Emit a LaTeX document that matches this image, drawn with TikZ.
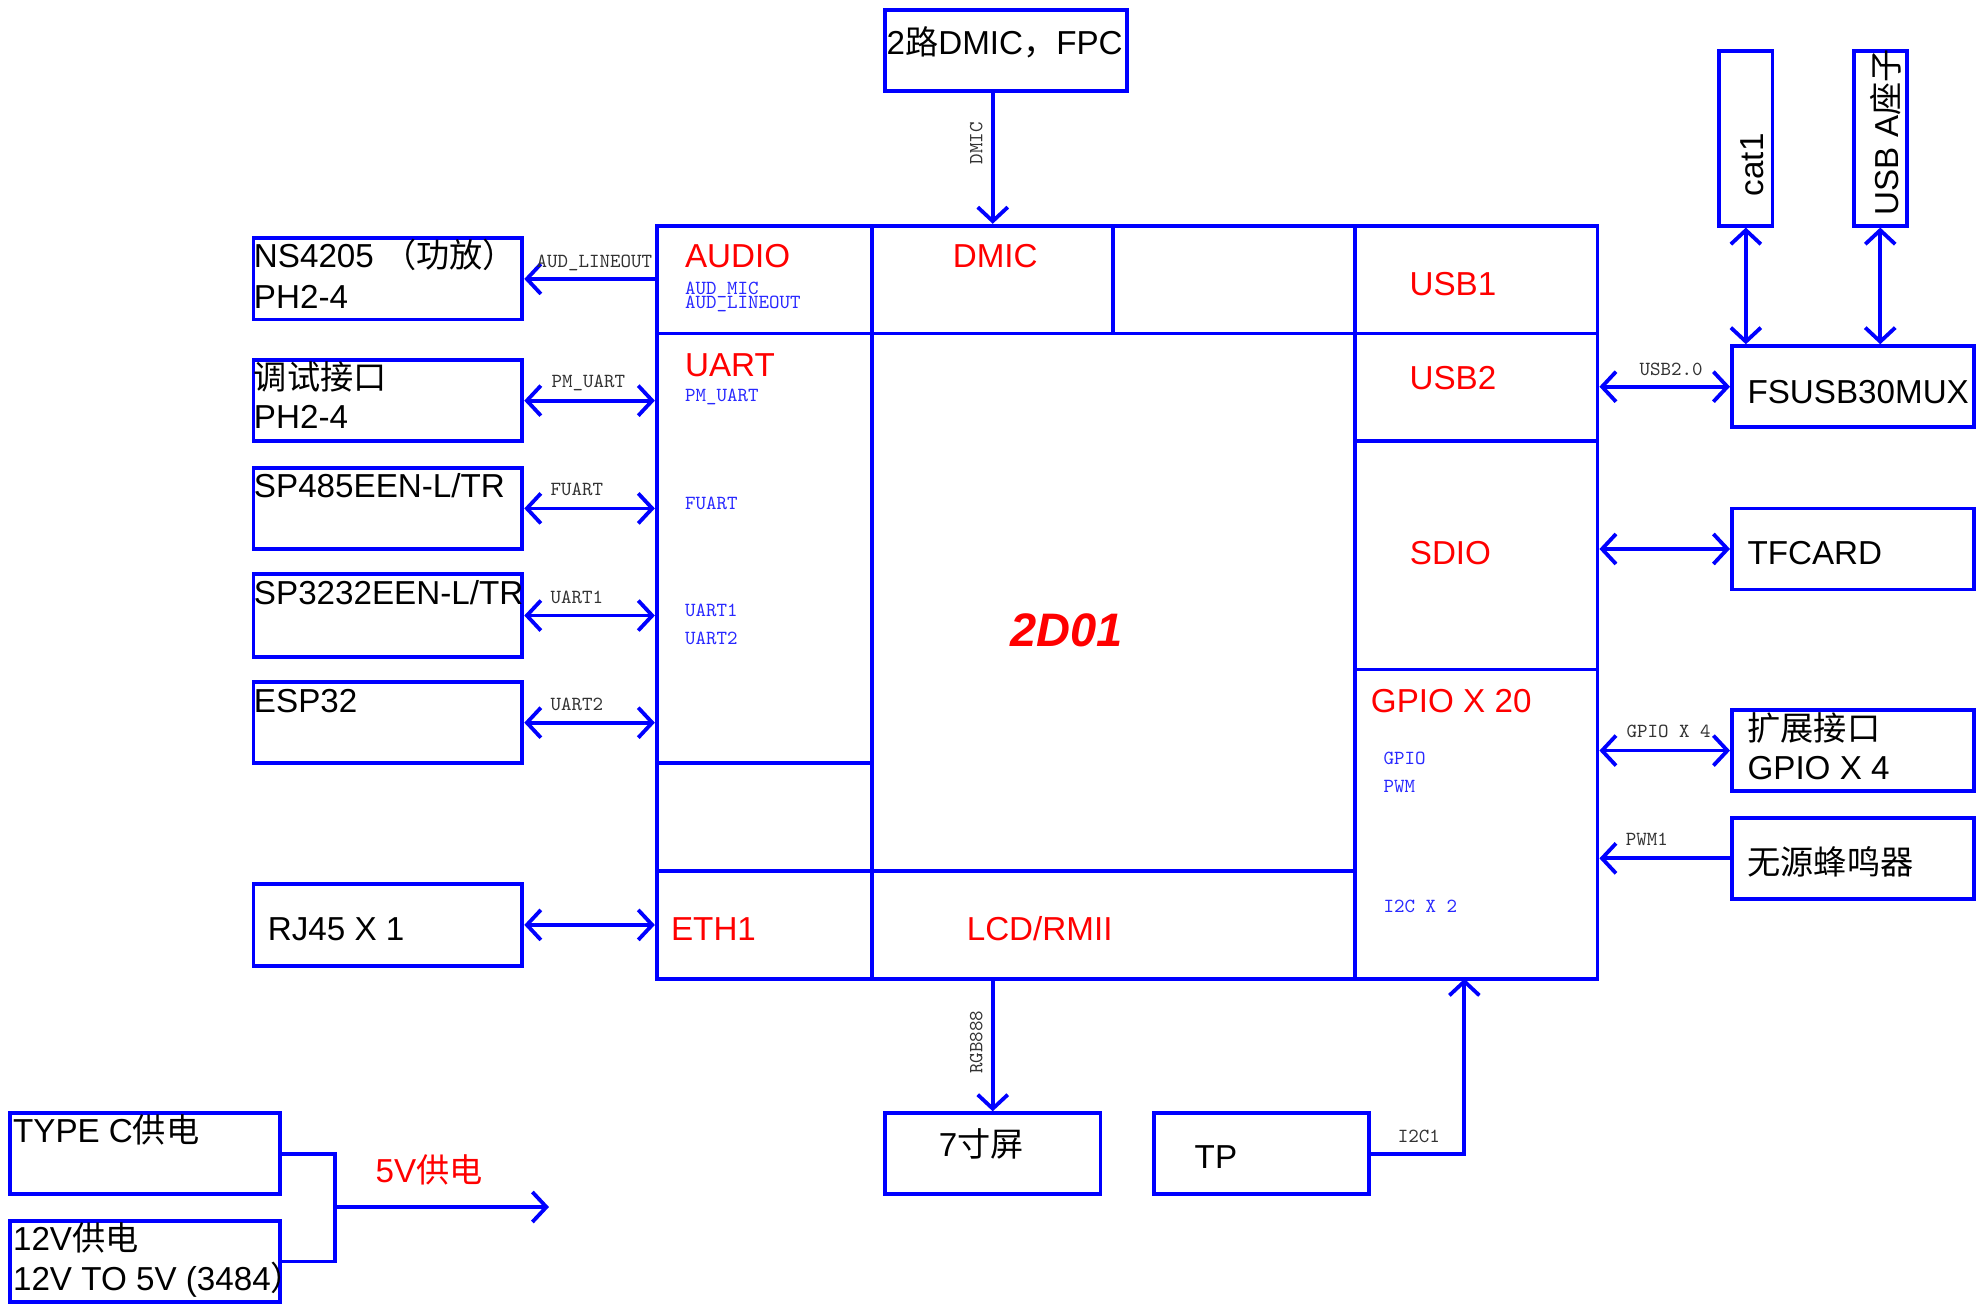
\documentclass[tikz,border=0pt]{standalone}
\usepackage{fontspec}
\setmainfont{Liberation Sans}
\newfontfamily\cjk{Noto Sans CJK SC}
\usetikzlibrary{arrows.meta,fit,calc}
\newcommand\zh[1]{{\cjk #1}}
\definecolor{bl}{RGB}{0,0,255}
\definecolor{sbl}{RGB}{40,40,255}
\definecolor{rd}{RGB}{255,0,0}
\definecolor{lbl}{RGB}{50,50,50}
\tikzset{
 box/.style={draw=bl, line width=1.9pt, inner sep=0pt, rectangle},
 wire/.style={draw=bl, line width=1.9pt},
 big/.style={inner sep=0pt, font=\fontsize{16.6}{20}\selectfont},
 redt/.style={big, text=rd},
 sig/.style={inner sep=0pt, font=\ttfamily\fontsize{10}{11}\selectfont, text=lbl},
 sigin/.style={sig, text=sbl},
 >={Straight Barb[length=7pt,width=15pt]}
}
\begin{document}
\begin{tikzpicture}[x=0.634pt,y=-0.634pt]
\useasboundingbox (0,0) rectangle (1568,1029);
% main chip
\node[box, fit={(518,178) (1260,772)}] (soc) {};
\draw[wire] (688,178) -- (688,772);
\draw[wire] (878,178) -- (878,263);
\draw[wire] (1069,178) -- (1069,772);
\draw[wire] (518,263) -- (1260,263);
\draw[wire] (518,602) -- (688,602);
\draw[wire] (518,687) -- (1069,687);
\draw[wire] (1069,348) -- (1260,348);
\draw[wire] (1069,528) -- (1260,528);
% boxes
\node[box, fit={(200,188) (412,252)}] (ns) {};
\node[box, fit={(200,284) (412,348)}] (dbg) {};
\node[box, fit={(200,369) (412,433)}] (rsa) {};
\node[box, fit={(200,453) (412,518)}] (rsb) {};
\node[box, fit={(200,538) (412,602)}] (esp) {};
\node[box, fit={(200,697) (412,762)}] (rj) {};
\node[box, fit={(698,8) (889,72)}] (dmicb) {};
\node[box, fit={(1356,40) (1398,178)}] (cat) {};
\node[box, fit={(1462,40) (1504,178)}] (usba) {};
\node[box, fit={(1366,273) (1557,337)}] (mux) {};
\node[box, fit={(1366,401) (1557,465)}] (tf) {};
\node[box, fit={(1366,560) (1557,624)}] (ext) {};
\node[box, fit={(1366,645) (1557,709)}] (buz) {};
\node[box, fit={(698,878) (868,942)}] (lcd) {};
\node[box, fit={(910,878) (1080,942)}] (tp) {};
\node[box, fit={(8,878) (221,942)}] (typec) {};
\node[box, fit={(8,963) (221,1027)}] (vtw) {};
% connectors
\draw[wire,<-] (ns.east) -- (ns.east -| soc.west);
\draw[wire,<->] (dbg.east) -- (dbg.east -| soc.west);
\draw[wire,<->] (rsa.east) -- (rsa.east -| soc.west);
\draw[wire,<->] (rsb.east) -- (rsb.east -| soc.west);
\draw[wire,<->] (esp.east) -- (esp.east -| soc.west);
\draw[wire,<->] (rj.east) -- (rj.east -| soc.west);
\draw[wire,->] (lcd.north |- dmicb.south) -- (lcd.north |- soc.north);
\draw[wire,->] (lcd.north |- soc.south) -- (lcd.north);
\draw[wire,<->] (cat.south) -- (cat.south |- mux.north);
\draw[wire,<->] (usba.south) -- (usba.south |- mux.north);
\draw[wire,<->] (mux.west -| soc.east) -- (mux.west);
\draw[wire,<->] (tf.west -| soc.east) -- (tf.west);
\draw[wire,<->] (ext.west -| soc.east) -- (ext.west);
\draw[wire,->] (buz.west) -- (buz.west -| soc.east);
\coordinate (ic) at (1155,772);
\draw[wire,->] (tp.east) -| (ic);
\coordinate (pj) at (264,952);
\coordinate (pout) at (433,952);
\draw[wire] (typec.east) -| (pj);
\draw[wire] (vtw.east) -| (pj);
\draw[wire,->] (pj) -- (pout);
% red labels
\node[redt,anchor=base west] (tAudio) at (540,211) {AUDIO};
\node[redt,anchor=base] (tDmic) at (785,211) {DMIC};
\node[redt,anchor=base] (tUsbA) at (1146,233) {USB1};
\node[redt,anchor=base west] (tUart) at (540,297) {UART};
\node[redt,anchor=base] (tUsbB) at (1146,307) {USB2};
\node[redt,anchor=base] (tSdio) at (1144,445) {SDIO};
\node[redt,anchor=base west] (tGpio) at (1081,562) {GPIO X 20};
\node[redt,anchor=base west] (tEth) at (529,742) {ETH1};
\node[redt,anchor=base] (tLcd) at (820,742) {LCD/RMII};
\node[redt,anchor=base west] (tFive) at (296,933) {5V\zh{供电}};
\node[inner sep=0pt, text=rd, font=\bfseries\itshape\fontsize{23.5}{28}\selectfont] (tChip) at (841,497) {2D01};
% inner blue signal labels
\node[sigin,anchor=base west] (sA) at (540,232) {AUD\_MIC};
\node[sigin,anchor=base west] (sB) at (540,243) {AUD\_LINEOUT};
\node[sigin,anchor=base west] (sC) at (540,317) {PM\_UART};
\node[sigin,anchor=base west] (sD) at (540,402) {FUART};
\node[sigin,anchor=base west] (sE) at (540,486) {UART1};
\node[sigin,anchor=base west] (sF) at (540,508) {UART2};
\node[sigin,anchor=base west] (sG) at (1091,603) {GPIO};
\node[sigin,anchor=base west] (sH) at (1091,625) {PWM};
\node[sigin,anchor=base west] (sI) at (1091,720) {I2C X 2};
% outer signal labels
\node[sig,anchor=base west] (lA) at (423,211) {AUD\_LINEOUT};
\node[sig,anchor=base] (lB) at (464,306) {PM\_UART};
\node[sig,anchor=base] (lC) at (455,391) {FUART};
\node[sig,anchor=base] (lD) at (455,476) {UART1};
\node[sig,anchor=base] (lE) at (455,560) {UART2};
\node[sig,anchor=base] (lF) at (1318,296) {USB2.0};
\node[sig,anchor=base] (lG) at (1316,582) {GPIO X 4};
\node[sig,anchor=base] (lH) at (1299,667) {PWM1};
\node[sig,anchor=base] (lI) at (1119,901) {I2C1};
\node[sig,rotate=90] (lJ) at (770,113) {DMIC};
\node[sig,rotate=90] (lK) at (770,822) {RGB888};
% box texts
\node[big,anchor=base west] (xA) at (200,211) {NS4205 \zh{（功放）}};
\node[big,anchor=base west] (xB) at (200,243) {PH2-4};
\node[big,anchor=base west] (xC) at (200,307) {\zh{调试接口}};
\node[big,anchor=base west] (xD) at (200,338) {PH2-4};
\node[big,anchor=base west] (xE) at (200,392) {SP485EEN-L/TR};
\node[big,anchor=base west] (xF) at (200,477) {SP3232EEN-L/TR};
\node[big,anchor=base west] (xG) at (200,562) {ESP32};
\node[big,anchor=base west] (xH) at (211,742) {RJ45 X 1};
\node[big,anchor=base west] (xI) at (699,43) {2\zh{路}DMIC\zh{，}FPC};
\node[big,rotate=90,anchor=base west] (xJ) at (1391,155) {cat1};
\node[big,rotate=90,anchor=base west] (xK) at (1497,170) {USB A\zh{座子}};
\node[big,anchor=base west] (xL) at (1378,318) {FSUSB30MUX};
\node[big,anchor=base west] (xM) at (1378,445) {TFCARD};
\node[big,anchor=base west] (xN) at (1378,584) {\zh{扩展接口}};
\node[big,anchor=base west] (xO) at (1378,615) {GPIO X 4};
\node[big,anchor=base west] (xP) at (1378,690) {\zh{无源蜂鸣器}};
\node[big,anchor=base] (xQ) at (774,912) {7\zh{寸屏}};
\node[big,anchor=base west] (xR) at (942,922) {TP};
\node[big,anchor=base west] (xS) at (10,901) {TYPE C\zh{供电}};
\node[big,anchor=base west] (xT) at (10,986) {12V\zh{供电}};
\node[big,anchor=base west] (xU) at (10,1018) {12V TO 5V (3484\zh{）}};
\end{tikzpicture}
\end{document}
